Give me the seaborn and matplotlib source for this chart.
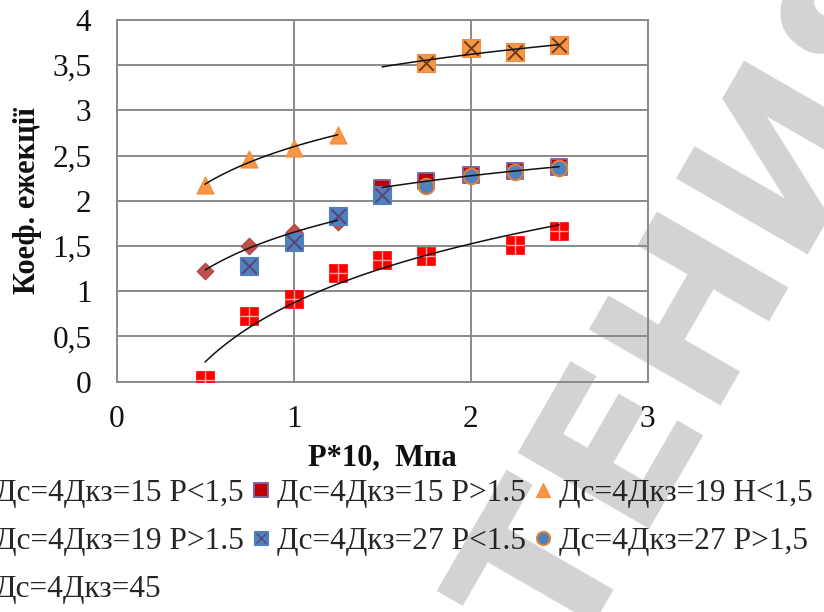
import numpy as np
import pandas as pd
import seaborn as sns
import matplotlib
matplotlib.use("Agg")
import matplotlib.pyplot as plt
from matplotlib.lines import Line2D

# ---- measured data -------------------------------------------------------
labels = [
    "Дс=4Дкз=15 P<1,5",
    "Дс=4Дкз=15 P>1.5",
    "Дс=4Дкз=19 Н<1,5",
    "Дс=4Дкз=19 P>1.5",
    "Дс=4Дкз=27 P<1.5",
    "Дс=4Дкз=27 P>1,5",
    "Дс=4Дкз=45",
]

x_15_lo = [0.5, 0.75, 1.0, 1.25]
y_15_lo = [1.22, 1.50, 1.66, 1.77]

x_15_hi = [1.5, 1.75, 2.0, 2.25, 2.5]
y_15_hi = [2.14, 2.22, 2.29, 2.33, 2.37]

x_19_lo = [0.5, 0.75, 1.0, 1.25]
y_19_lo = [2.17, 2.46, 2.58, 2.73]

x_19_hi = [1.75, 2.0, 2.25, 2.5]
y_19_hi = [3.52, 3.69, 3.65, 3.72]

x_27_lo = [0.75, 1.0, 1.25, 1.5]
y_27_lo = [1.28, 1.55, 1.83, 2.07]

x_27_hi = [1.75, 2.0, 2.25, 2.5]
y_27_hi = [2.16, 2.28, 2.32, 2.36]

x_45 = [0.5, 0.75, 1.0, 1.25, 1.5, 1.75, 2.25, 2.5]
y_45 = [0.02, 0.73, 0.92, 1.20, 1.35, 1.39, 1.51, 1.67]

x_ticks = [0, 1, 2, 3]
x_tick_labels = ["0", "1", "2", "3"]
y_ticks = [0, 0.5, 1, 1.5, 2, 2.5, 3, 3.5, 4]
y_tick_labels = ["0", "0,5", "1", "1,5", "2", "2,5", "3", "3,5", "4"]

x_title = "P*10,  Мпа"
y_title = "Коеф. ежекції"
stamp = "ТЕНИЯ"

# logarithmic trendlines: series index -> x range of the fitted curve
trend_series = [0, 1, 2, 3, 6]
trend_from = [0.5, 1.5, 0.5, 1.5, 0.5]
trend_to = [1.25, 2.5, 1.25, 2.5, 2.5]

xs = [x_15_lo, x_15_hi, x_19_lo, x_19_hi, x_27_lo, x_27_hi, x_45]
ys = [y_15_lo, y_15_hi, y_19_lo, y_19_hi, y_27_lo, y_27_hi, y_45]

df = pd.concat(
    [pd.DataFrame({"series": lab, "x": x, "y": y}) for lab, x, y in zip(labels, xs, ys)],
    ignore_index=True,
)

# ---- styling ---------------------------------------------------------------
serif = ["Liberation Serif", "DejaVu Serif"]
sns.set_theme(style="white")
plt.rcParams["font.family"] = serif

# base marker, base size, face, edge, edge width, overlay marker
styles = [
    dict(marker="D", s=72, fc="#C0504D", ec="#B04440", lw=0.8, over=None),
    dict(marker="s", s=135, fc="#C00000", ec="#8064A2", lw=1.4, over=None),
    dict(marker="^", s=150, fc="#F79646", ec="#F08C3C", lw=0.8, over=None),
    dict(marker="s", s=150, fc="#F79646", ec="#F08C3C", lw=0.8, over=("x", "#6E3A1C", 110, 1.4)),
    dict(marker="s", s=150, fc="#4F81BD", ec="#4F81BD", lw=0.8, over=("x", "#5A4478", 110, 1.4)),
    dict(marker="o", s=125, fc="#4F81BD", ec="#E0823A", lw=1.4, over=None),
    dict(marker="s", s=160, fc="#FF0000", ec="#FF0000", lw=0.5, over=("+", "#FFA8A8", 160, 1.0)),
]

W, H = 824, 612
fig = plt.figure(figsize=(W / 100, H / 100), dpi=100)
fig.patch.set_facecolor("white")

# background stamp lettering, under everything else
fig.text(569 / W, 1 - 667 / H, stamp, rotation=60, rotation_mode="anchor",
         fontsize=150, fontweight="bold", family="DejaVu Sans",
         color="#D3D3D3", ha="left", va="baseline", zorder=-1)

x0, x1, y0, y1 = 116.5, 647.7, 20.0, 381.7
ax = fig.add_axes([x0 / W, 1 - y1 / H, (x1 - x0) / W, (y1 - y0) / H])
ax.patch.set_alpha(0)

grid_c = "#8A8A8A"
for i, (lab, st) in enumerate(zip(labels, styles)):
    sub = df[df["series"] == lab]
    sns.scatterplot(data=sub, x="x", y="y", marker=st["marker"], s=st["s"],
                    color=st["fc"], edgecolor=st["ec"], linewidth=st["lw"],
                    ax=ax, zorder=3 + i * 0.1, legend=False)
    if st["over"] is not None:
        m, c, s, lw = st["over"]
        sns.scatterplot(data=sub, x="x", y="y", marker=m, s=s, color=c,
                        linewidth=lw, ax=ax, zorder=3.05 + i * 0.1, legend=False)

# logarithmic trendlines fitted to each series
for idx, a, b in zip(trend_series, trend_from, trend_to):
    k, c0 = np.polyfit(np.log(xs[idx]), ys[idx], 1)
    xt = np.linspace(a, b, 100)
    sns.lineplot(x=xt, y=k * np.log(xt) + c0, color="#111111", linewidth=1.1,
                 ax=ax, zorder=5, legend=False)

ax.set_xlim(0, 3)
ax.set_ylim(0, 4)
ax.set_xticks(x_ticks)
ax.set_xticklabels(x_tick_labels)
ax.set_yticks(y_ticks)
ax.set_yticklabels(y_tick_labels)
ax.grid(True, color=grid_c, linewidth=1.4)
for sp in ax.spines.values():
    sp.set_visible(True)
    sp.set_color(grid_c)
    sp.set_linewidth(1.4)
ax.tick_params(axis="both", which="major", direction="out", length=6,
               width=1.4, color=grid_c, labelsize=22.5, labelcolor="#101018")
ax.tick_params(axis="x", pad=11)
ax.tick_params(axis="y", pad=12)
for t in ax.get_xticklabels() + ax.get_yticklabels():
    t.set_family(serif)

ax.set_xlabel(x_title, fontsize=22, fontweight="bold", family=serif, color="#101010")
ax.set_ylabel(y_title, fontsize=22, fontweight="bold", family=serif, color="#101010")
ax.xaxis.label.set_va("center")
ax.xaxis.set_label_coords(0.5, (y1 - 458) / (y1 - y0))
ax.yaxis.label.set_va("center")
ax.yaxis.set_label_coords((28 - x0) / (x1 - x0), 0.5)

# legend handles, overlaid where a marker carries a cross
handles = []
for st in styles:
    base = Line2D([], [], linestyle="none", marker=st["marker"], markersize=9.5,
                  markerfacecolor=st["fc"], markeredgecolor=st["ec"],
                  markeredgewidth=st["lw"])
    if st["over"] is not None:
        m, c, s, lw = st["over"]
        top = Line2D([], [], linestyle="none", marker=m, markersize=7.5,
                     markeredgecolor=c, markeredgewidth=1.0)
        handles.append((base, top))
    else:
        handles.append(base)

order = [0, 3, 6, 1, 4, 2, 5]
fig.legend([handles[i] for i in order], [labels[i] for i in order],
           ncol=3, loc="upper left", bbox_to_anchor=(-30 / W, 1 - 479 / H),
           frameon=False, prop={"family": serif, "size": 22.6},
           handlelength=0.6, handletextpad=0.2, columnspacing=0.25,
           labelspacing=0.6, borderpad=0, borderaxespad=0)

fig.savefig("out.png", dpi=100)
